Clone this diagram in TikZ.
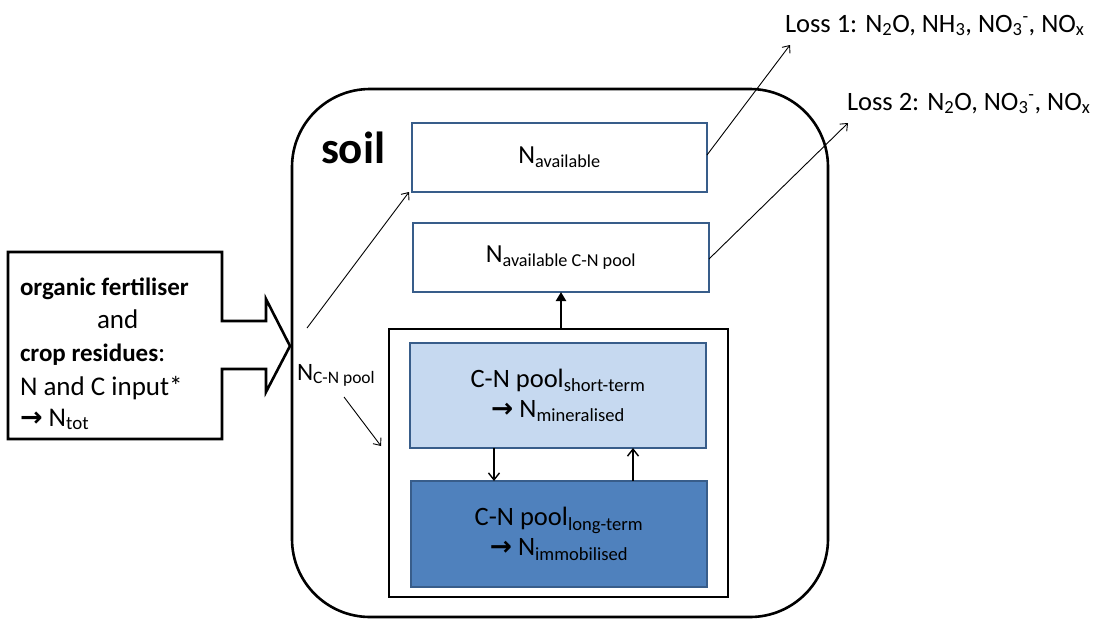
\documentclass[tikz,border=0pt]{standalone}
\usepackage{fontspec}
\setmainfont{Carlito}
\newfontfamily\symf{DejaVu Sans}
\usetikzlibrary{arrows.meta}
\definecolor{bord}{RGB}{56,93,138}
\definecolor{lightfill}{RGB}{198,217,240}
\definecolor{darkfill}{RGB}{79,129,189}
\newcommand\rarr{{\symf\bfseries\char"2192}}
\begin{document}
\begin{tikzpicture}[x=1pt,y=-1pt,
  every node/.style={inner sep=0pt,outer sep=0pt},
  nbox/.style={draw=bord,line width=1.8pt,fill=white,minimum width=295pt,minimum height=69pt,font=\fontsize{26}{30}\selectfont},
  pool/.style={draw=bord,line width=1.8pt,minimum width=296pt,minimum height=105pt,align=center,font=\fontsize{26.5}{30}\selectfont},
  txt/.style={anchor=base west,font=\fontsize{27}{32}\selectfont},
  boldtxt/.style={anchor=base west,font=\bfseries\fontsize{25}{32}\selectfont},
  losstxt/.style={anchor=base west,font=\fontsize{26.5}{30}\selectfont},
  thinarrow/.style={line width=0.9pt,-{Straight Barb[length=6pt,width=10pt]}},
  midarrow/.style={line width=1.4pt,-{Straight Barb[length=7pt,width=11pt]}},
  thickarrow/.style={line width=2.2pt,-{Triangle[length=9pt,width=10pt]}}
]
\useasboundingbox (0,0) rectangle (1096,619);
% soil box
\node[draw,line width=2.6pt,rounded corners=78pt,minimum width=536pt,minimum height=528pt] (soil) at (560,353) {};
\node[anchor=base west,font=\bfseries\fontsize{45}{48}\selectfont] (soillbl) at (321,163) {soil};
% N boxes
\node[nbox] (navail) at (559.5,157.5) {N\textsubscript{available}};
\node[nbox,minimum width=296pt] (navailcn) at (561,257.5) {N\textsubscript{available C-N pool}};
% outer pool box
\node[draw,line width=2.4pt,minimum width=339pt,minimum height=268pt] (outer) at (558.5,463) {};
\node[pool,fill=lightfill] (short) at (558,395.5) {C-N pool\textsubscript{short-term}\\\rarr\ N\textsubscript{mineralised}};
\node[pool,fill=darkfill,minimum height=106pt] (long) at (559,534) {C-N pool\textsubscript{long-term}\\\rarr\ N\textsubscript{immobilised}};
% input block arrow
\draw[line width=2.6pt,line join=miter] (8,252) -- (222,252) -- (222,321) -- (266,321) -- (266,299) -- (290,346)
  coordinate (tip) -- (266,392) -- (266,369) -- (222,369) -- (222,439) -- (8,439) -- cycle;
\node[boldtxt] (l1) at (20,295) {organic fertiliser};
\node[txt] (l2) at (97,328) {and};
\node[txt] (l3) at (20,361) {{\bfseries\fontsize{25}{32}\selectfont crop residues}:};
\node[txt] (l4) at (20,395) {N and C input*};
\node[txt] (l5) at (20,426) {\rarr\ N\textsubscript{tot}};
% N C-N pool label
\node[txt,font=\fontsize{25}{30}\selectfont] (ncn) at (297,380) {N\textsubscript{C-N pool}};
% loss labels
\node[losstxt] (loss1) at (785,32) {Loss 1: N\textsubscript{2}O, NH\textsubscript{3}, NO\textsubscript{3}\textsuperscript{-}, NO\textsubscript{x}};
\node[losstxt] (loss2) at (847,110) {Loss 2: N\textsubscript{2}O, NO\textsubscript{3}\textsuperscript{-}, NO\textsubscript{x}};
% connectors
\coordinate (a1s) at (307,328);
\coordinate (a1e) at (409,192);
\coordinate (a2s) at (344,397);
\coordinate (a2e) at (381,446);
\coordinate (l1s) at (707,155);
\coordinate (l1e) at (790,45);
\coordinate (l2s) at (709,259);
\coordinate (l2e) at (848,123);
\draw[thinarrow] (a1s) -- (a1e);
\draw[thinarrow] (a2s) -- (a2e);
\draw[thinarrow] (l1s) -- (l1e);
\draw[thinarrow] (l2s) -- (l2e);
\draw[thickarrow] (outer.north -| navailcn.south) -- (navailcn.south);
\draw[midarrow] (short.south -| 494,0) -- (long.north -| 494,0);
\draw[midarrow] (long.north -| 633,0) -- (short.south -| 633,0);
\end{tikzpicture}
\end{document}
